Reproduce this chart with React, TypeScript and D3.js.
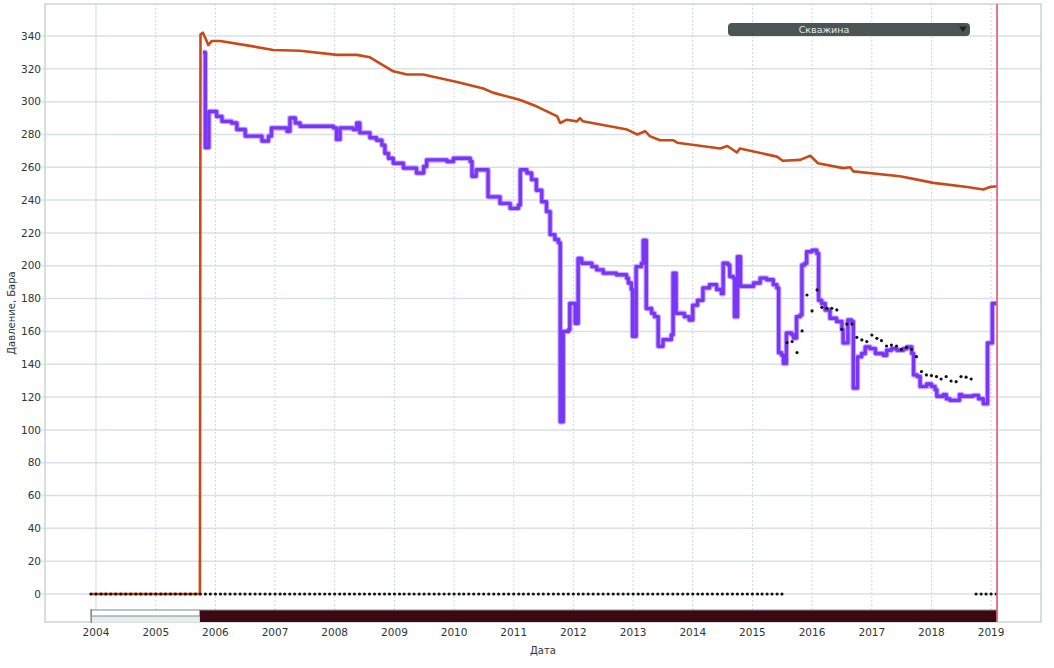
import * as d3 from "d3";

// decimal year -> Date
const yd = (y: number) => {
  const Y = Math.floor(y);
  const s = new Date(Y, 0, 1).getTime();
  const e = new Date(Y + 1, 0, 1).getTime();
  return new Date(s + (y - Y) * (e - s));
};

// reservoir pressure (orange)
const reservoirPressure: [number, number][] = [
  [2003.92, 0], [2005.74, 0], [2005.75, 341], [2005.79, 342], [2005.84, 338],
  [2005.88, 334.5], [2005.94, 337], [2006.08, 337], [2006.58, 334], [2006.97, 331.5],
  [2007.42, 331], [2008.04, 328.5], [2008.37, 328.5], [2008.59, 327], [2008.98, 318.5],
  [2009.21, 316.5], [2009.48, 316.5], [2010.05, 312], [2010.49, 308], [2010.65, 305.5],
  [2011.11, 301], [2011.39, 297], [2011.73, 291], [2011.78, 287], [2011.89, 289],
  [2012.06, 288], [2012.11, 290], [2012.16, 288], [2012.9, 283], [2013.07, 280],
  [2013.2, 282], [2013.28, 279], [2013.45, 276.5], [2013.67, 276.5], [2013.74, 275],
  [2014.46, 271.5], [2014.58, 273], [2014.74, 269], [2014.79, 271.5], [2015.41, 266.5],
  [2015.51, 264], [2015.8, 264.5], [2015.97, 267], [2016.1, 262.5], [2016.52, 259.5],
  [2016.64, 260], [2016.69, 257.5], [2017.47, 254.5], [2017.76, 252.5], [2018.03, 250.5],
  [2018.6, 248], [2018.87, 246.5], [2018.98, 248], [2019.1, 248.5],
];

// bottomhole pressure (purple)
const bottomholePressure: [number, number][] = [
  [2005.79, 330], [2005.83, 272], [2005.89, 294], [2005.96, 294], [2006.02, 291],
  [2006.11, 288], [2006.27, 287], [2006.36, 283], [2006.5, 279], [2006.61, 279],
  [2006.78, 276], [2006.89, 279], [2006.94, 284], [2007.2, 282], [2007.25, 290],
  [2007.34, 287], [2007.42, 285], [2007.98, 284], [2008.03, 277], [2008.09, 284],
  [2008.31, 283], [2008.37, 287], [2008.42, 281], [2008.59, 278], [2008.7, 276.5],
  [2008.79, 273.5], [2008.84, 268.5], [2008.9, 265.5], [2008.98, 262.5], [2009.15, 259.5],
  [2009.37, 256.5], [2009.49, 260.5], [2009.54, 264.5], [2009.88, 263.5], [2009.99, 265.5],
  [2010.27, 263.5], [2010.3, 254.5], [2010.37, 258.5], [2010.55, 258.5], [2010.57, 242],
  [2010.77, 238], [2010.94, 235], [2011.08, 237], [2011.11, 258.5], [2011.22, 256.5],
  [2011.3, 252.5], [2011.38, 246], [2011.47, 239], [2011.55, 233], [2011.61, 219],
  [2011.69, 216], [2011.75, 214], [2011.78, 105], [2011.83, 160], [2011.92, 161],
  [2011.94, 177], [2012.03, 165], [2012.08, 204.5], [2012.14, 201.5], [2012.31, 199.5],
  [2012.39, 197.5], [2012.5, 195.5], [2012.72, 194.5], [2012.89, 192.5], [2012.92, 189.5],
  [2012.97, 185.5], [2012.99, 157], [2013.05, 199.5], [2013.14, 201.5], [2013.17, 215.5],
  [2013.22, 174], [2013.31, 171], [2013.36, 169], [2013.42, 151], [2013.5, 155],
  [2013.64, 158], [2013.67, 195.5], [2013.72, 171], [2013.86, 169], [2013.94, 167],
  [2014.0, 176], [2014.08, 179], [2014.17, 186.5], [2014.28, 188.5], [2014.4, 185.5],
  [2014.48, 183], [2014.51, 201.5], [2014.59, 200.5], [2014.62, 193.5], [2014.68, 192.5],
  [2014.7, 169], [2014.75, 205.5], [2014.8, 187.5], [2015.02, 189.5], [2015.13, 192.5],
  [2015.24, 191.5], [2015.35, 188.5], [2015.41, 186.5], [2015.44, 147], [2015.49, 145.5],
  [2015.52, 140.5], [2015.57, 159], [2015.66, 158], [2015.69, 156], [2015.74, 169],
  [2015.8, 170], [2015.83, 200.5], [2015.88, 201.5], [2015.91, 208.5], [2016.0, 209.5],
  [2016.08, 207.5], [2016.11, 179], [2016.16, 177], [2016.22, 173], [2016.3, 168],
  [2016.41, 166], [2016.5, 161], [2016.52, 153], [2016.6, 167], [2016.66, 166],
  [2016.69, 125.5], [2016.76, 144.5], [2016.83, 146.5], [2016.89, 150.5], [2016.97, 149.5],
  [2017.06, 146.5], [2017.19, 145.5], [2017.25, 148.5], [2017.33, 149.5], [2017.42, 148.5],
  [2017.53, 149.5], [2017.59, 150.5], [2017.67, 146.5], [2017.7, 133.5], [2017.76, 132.5],
  [2017.81, 126.5], [2017.92, 128], [2018.0, 126.5], [2018.06, 124.5], [2018.09, 120.5],
  [2018.2, 121.5], [2018.25, 119], [2018.31, 118], [2018.47, 121.5], [2018.51, 120.5],
  [2018.7, 121], [2018.79, 119], [2018.87, 116], [2018.94, 153], [2019.02, 177],
  [2019.1, 177],
];

// monthly measurements Aug 2015 .. Sep 2018 (black dots)
const measuredStart = [2015, 7]; // year, month index
const measuredValues = [
  153.2, 153.8, 147.1, 160.3, 182.2, 172.5, 185.3, 174.7, 174.1, 174.1,
  173.1, 161.3, 164.5, 164.5, 156.4, 154.8, 153.8, 157.8, 155.8, 154.4,
  151.1, 151.7, 151.1, 149.1, 150.3, 149.1, 144.6, 135.5, 133.5, 133.1,
  132.5, 131, 132.5, 129.8, 129.4, 132.5, 132.1, 131,
];

// monthly zero readings: [start, end] (inclusive)
const zeroRanges: [string, string][] = [
  ["2003-12-01", "2015-07-01"],
  ["2018-10-01", "2019-02-01"],
];

const yTicks = d3.range(0, 341, 20);
const yearTicks = d3.range(2004, 2020);
const periods = [
  { from: 2003.92, to: 2005.74, kind: "idle" },
  { from: 2005.74, to: 2019.1, kind: "work" },
];
const currentDate = 2019.1;

const W = 1054;
const H = 668;
const L = 45, R = 1041, T = 4, B = 622;

export default function App() {
  const x = d3.scaleTime().domain([yd(2003.145), yd(2019.837)]).range([L, R]);
  const y = d3.scaleLinear().domain([-17.06, 359.5]).range([B, T]);

  const line = d3
    .line<[number, number]>()
    .x((d) => x(yd(d[0])))
    .y((d) => y(d[1]));
  const stepLine = d3
    .line<[number, number]>()
    .curve(d3.curveStepAfter)
    .x((d) => x(yd(d[0])))
    .y((d) => y(d[1]));

  const zeroDates = zeroRanges.flatMap(([a, b]) =>
    d3.timeMonth.range(new Date(a + "T00:00:00"), d3.timeMonth.offset(new Date(b + "T00:00:00"), 1))
  );
  const measured = measuredValues.map((v, i) => ({
    date: new Date(measuredStart[0], measuredStart[1] + i, 1),
    v,
  }));

  const font = "'DejaVu Sans', Verdana, sans-serif";
  const xc = x(yd(currentDate));
  const purplePath = stepLine(bottomholePressure) || "";

  return (
    <svg width={W} height={H} style={{ display: "block", background: "#fff" }}>
      <style>{`body{margin:0}`}</style>
      {/* grid */}
      {yTicks.map((t) => (
        <line key={"h" + t} x1={L - 3} x2={R} y1={y(t)} y2={y(t)} stroke="#d9e2e2" strokeWidth={1.5} />
      ))}
      {yearTicks.map((yr, i) => (
        <line
          key={"v" + yr}
          x1={x(new Date(yr, 0, 1))}
          x2={x(new Date(yr, 0, 1))}
          y1={T}
          y2={B}
          stroke="#cfd9d9"
          strokeWidth={1}
          strokeDasharray={i === 0 ? undefined : "2,2"}
        />
      ))}
      <rect x={L} y={T} width={R - L} height={B - T} fill="none" stroke="#cbd5d5" strokeWidth={1.5} />

      {/* period bar */}
      {periods.map((p) => {
        const x0 = x(yd(p.from));
        const x1 = x(yd(p.to));
        return p.kind === "idle" ? (
          <g key={p.kind}>
            <rect x={x0} y={616} width={x1 - x0} height={6} fill="#e6eded" />
            <rect x={x0} y={610} width={x1 - x0} height={6} fill="#fff" stroke="#7e8a8a" strokeWidth={1} />
            <line x1={x0} x2={x0} y1={609} y2={623} stroke="#7e8a8a" strokeWidth={1.5} />
          </g>
        ) : (
          <g key={p.kind}>
            <rect x={x0} y={610} width={x1 - x0} height={12} fill="#3c0812" />
            <line x1={x0} x2={x1} y1={610} y2={610} stroke="#8a8f92" strokeWidth={1} />
          </g>
        );
      })}

      {/* series */}
      <path d={line(reservoirPressure) || ""} fill="none" stroke="#c94a16" strokeWidth={2.6} strokeLinejoin="round" />
      <path d={purplePath} fill="none" stroke="#c7a9ff" strokeWidth={5.5} strokeLinejoin="round" />
      <path d={purplePath} fill="none" stroke="#7a36f6" strokeWidth={3.4} strokeLinejoin="round" />

      {zeroDates.map((d, i) => (
        <circle key={"z" + i} cx={x(d)} cy={y(0)} r={1.6} fill="#141414" />
      ))}
      {measured.map((m, i) => (
        <circle key={"m" + i} cx={x(m.date)} cy={y(m.v)} r={1.6} fill="#141414" />
      ))}

      {/* current date marker */}
      <line x1={xc} x2={xc} y1={T} y2={B} stroke="#f2607f" strokeWidth={1.8} />

      {/* axes labels */}
      {yTicks.map((t) => (
        <text key={"yl" + t} x={41} y={y(t)} dy="0.35em" textAnchor="end" fontFamily={font} fontSize={10.5} fill="#2e3636">
          {t}
        </text>
      ))}
      {yearTicks.map((yr) => (
        <text key={"xl" + yr} x={x(new Date(yr, 0, 1))} y={636} textAnchor="middle" fontFamily={font} fontSize={10.5} fill="#2e3636">
          {yr}
        </text>
      ))}
      <text transform={`translate(15,${(T + B) / 2}) rotate(-90)`} textAnchor="middle" fontFamily={font} fontSize={10} fill="#2e3636">
        Давление, Бара
      </text>
      <text x={543} y={654} textAnchor="middle" fontFamily={font} fontSize={10} fill="#2e3636">
        Дата
      </text>

      {/* well selector */}
      <rect x={728} y={23} width={242} height={13} rx={4} fill="#4b5555" />
      <text x={824} y={29.5} dy="0.35em" textAnchor="middle" fontFamily={font} fontSize={9.5} fill="#e2eaea">
        Скважина
      </text>
      <path d="M959,26.5 L967,26.5 L963,32 Z" fill="#1e2424" />
    </svg>
  );
}
